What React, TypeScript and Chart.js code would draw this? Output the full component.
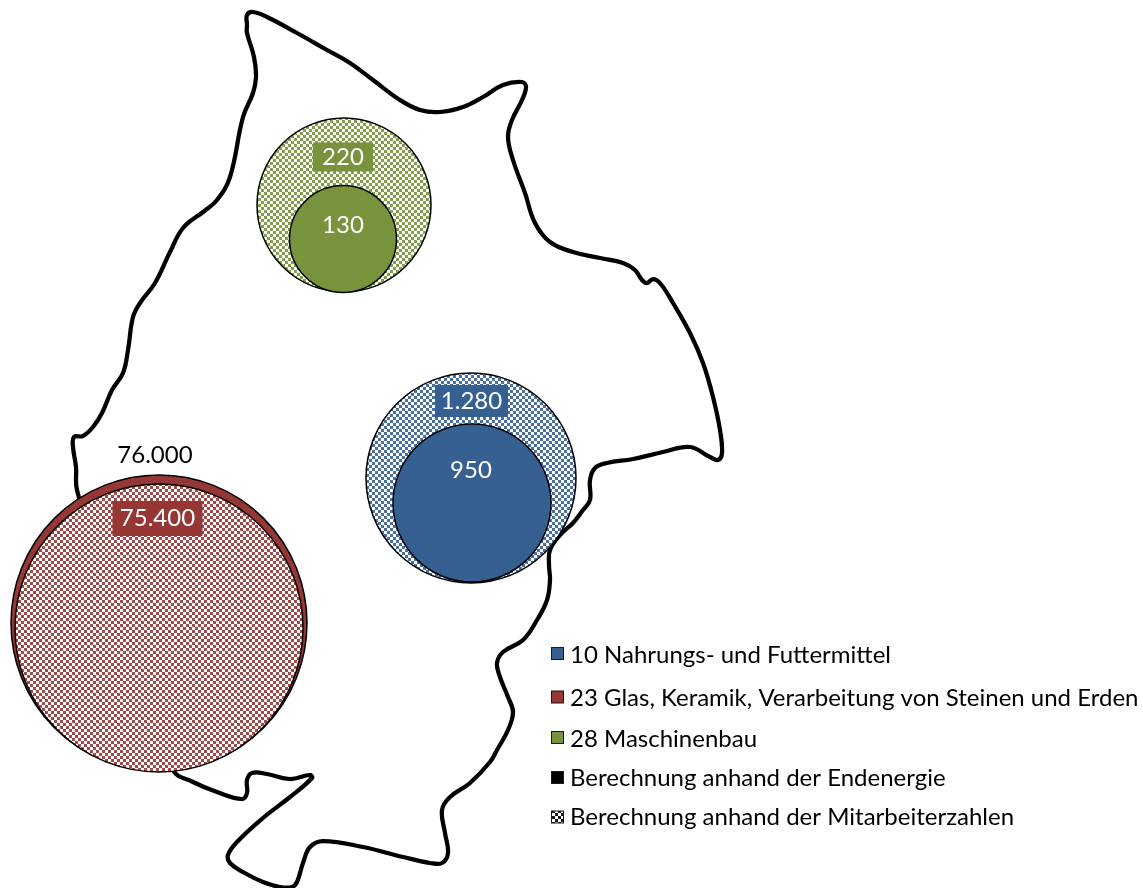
import React, { useEffect, useRef } from "react";
import { Chart, registerables } from "chart.js";

Chart.register(...registerables);

const WIDTH = 1143;
const HEIGHT = 888;

const outlineX = [247,247,253,267,297,327,350,373,400,420,440,463,483,503,522,526,522,512,508,513,525,535,550,573,600,623,635,642,647,653,660,673,690,703,713,720,722,718,710,690,663,633,607,595,590,590,583,573,560,550,549,550,547,537,523,503,497,500,508,513,508,497,490,470,450,442,445,448,442,430,403,363,323,310,303,297,292,280,263,243,230,228,237,263,290,312,310,290,267,252,247,247,242,217,193,173,120,77,76,73,74,83,93,102,112,123,128,133,140,155,170,183,203,217,230,243,253,256,254,247,247];
const outlineY = [25,15,12,17,33,50,63,80,100,110,112,107,97,85,82,87,100,120,137,160,193,223,242,252,258,263,270,280,283,279,283,303,333,363,397,430,453,460,457,447,452,459,463,468,480,500,510,523,535,550,565,580,600,620,640,652,663,677,697,712,730,750,762,783,797,810,833,853,863,863,857,847,841,847,863,882,887,887,882,872,863,855,842,818,797,778,775,779,774,773,780,793,799,792,782,770,640,490,467,447,437,436,427,413,390,373,350,317,303,283,252,228,212,200,177,117,93,77,57,33,25];

const seriesNames = ["10 Nahrungs- und Futtermittel", "23 Glas, Keramik, Verarbeitung von Steinen und Erden", "28 Maschinenbau"];
const methodNames = ["Berechnung anhand der Endenergie", "Berechnung anhand der Mitarbeiterzahlen"];
const seriesColors = ["#376092", "#953735", "#77933C"];

const energyLabels = ["950", "76.000", "130"];
const energyX = [472, 159, 343];
const energyY = [503, 623, 239];
const energyR = [79, 148, 53.5];
const energyLabelX = [471, 155, 343];
const energyLabelY = [470, 455, 225];
const energyLabelColor = ["#ffffff", "#000000", "#ffffff"];

const staffLabels = ["1.280", "75.400", "220"];
const staffX = [471, 159, 344];
const staffY = [478, 628, 205];
const staffR = [105, 144, 87];
const staffLabelX = [471.5, 157.5, 343];
const staffLabelY = [401, 518.5, 157];
const staffBoxW = [73, 90, 60];
const staffBoxH = [32, 35, 29];

const legendTextY = [655, 698, 739, 778, 817.5];
const legendBoxY = [653.5, 697, 737.5, 777.5, 817];

const BORDER = 1.5;
// Chart.js reserves the largest bubble's radius round the plot; the scale limits absorb that.
const INSET = Math.max(...energyR, ...staffR) + BORDER;

const FONT = '24px Lato, "Open Sans", sans-serif';

function checker(color: string): CanvasPattern {
  const c = document.createElement("canvas");
  c.width = 6;
  c.height = 6;
  const g = c.getContext("2d")!;
  g.fillStyle = "#ffffff";
  g.fillRect(0, 0, 6, 6);
  g.globalAlpha = 0.9;
  g.fillStyle = color;
  g.fillRect(0, 0, 3, 3);
  g.fillRect(3, 3, 3, 3);
  return g.createPattern(c, "repeat")!;
}

const annotations = {
  id: "annotations",
  afterDatasetsDraw(chart: any) {
    const { ctx, scales } = chart;
    const sx = (v: number) => scales.x.getPixelForValue(v);
    const sy = (v: number) => scales.y.getPixelForValue(v);
    ctx.save();
    ctx.font = FONT;
    ctx.textBaseline = "middle";
    ctx.textAlign = "center";
    energyLabels.forEach((t, i) => {
      ctx.fillStyle = energyLabelColor[i];
      ctx.fillText(t, sx(energyLabelX[i]), sy(energyLabelY[i]));
    });
    staffLabels.forEach((t, i) => {
      const x = sx(staffLabelX[i]);
      const y = sy(staffLabelY[i]);
      ctx.fillStyle = seriesColors[i];
      ctx.fillRect(x - staffBoxW[i] / 2, y - staffBoxH[i] / 2, staffBoxW[i], staffBoxH[i]);
      ctx.fillStyle = "#ffffff";
      ctx.fillText(t, x, y);
    });
    const names = [...seriesNames, ...methodNames];
    const fills: (string | CanvasPattern)[] = [...seriesColors, "#000000", checker("#000000")];
    ctx.textAlign = "left";
    names.forEach((t, i) => {
      ctx.fillStyle = fills[i];
      ctx.fillRect(551.5, legendBoxY[i] - 6, 12, 12);
      ctx.strokeStyle = "#1a1a1a";
      ctx.lineWidth = 1;
      ctx.strokeRect(551.5, legendBoxY[i] - 6, 12, 12);
      ctx.fillStyle = "#000000";
      ctx.fillText(t, 570, legendTextY[i]);
    });
    ctx.restore();
  },
};

export default function App() {
  const ref = useRef<HTMLCanvasElement>(null);
  useEffect(() => {
    document.body.style.margin = "0";
    const bubble = (label: string, xs: number[], ys: number[], rs: number[], fill: any, order: number) => ({
      type: "bubble" as const,
      label,
      data: xs.map((x, i) => ({ x, y: ys[i], r: rs[i] })),
      backgroundColor: fill,
      borderColor: "#000000",
      borderWidth: BORDER,
      order,
      clip: false,
    });
    const chart = new Chart(ref.current!, {
      type: "scatter",
      data: {
        datasets: [
          bubble("Endenergie", [energyX[0]], [energyY[0]], [energyR[0]], seriesColors[0], 1),
          bubble("Mitarbeiter", [staffX[0]], [staffY[0]], [staffR[0]], checker(seriesColors[0]), 2),
          bubble("Mitarbeiter", [staffX[1]], [staffY[1]], [staffR[1]], checker(seriesColors[1]), 1),
          bubble("Endenergie", [energyX[1]], [energyY[1]], [energyR[1]], seriesColors[1], 2),
          bubble("Endenergie", [energyX[2]], [energyY[2]], [energyR[2]], seriesColors[2], 1),
          bubble("Mitarbeiter", [staffX[2]], [staffY[2]], [staffR[2]], checker(seriesColors[2]), 2),
          {
            type: "scatter" as const,
            label: "Umriss",
            data: outlineX.map((x, i) => ({ x, y: outlineY[i] })),
            showLine: true,
            fill: false,
            tension: 0.4,
            borderColor: "#000000",
            borderWidth: 4.25,
            pointRadius: 0,
            order: 3,
            clip: false,
          },
        ] as any,
      },
      options: {
        animation: false,
        responsive: false,
        layout: { padding: 0 },
        plugins: { legend: { display: false }, tooltip: { enabled: false } },
        scales: {
          x: { type: "linear", min: INSET, max: WIDTH - INSET, display: false },
          y: { type: "linear", min: INSET, max: HEIGHT - INSET, reverse: true, display: false },
        },
      },
      plugins: [annotations],
    });
    return () => chart.destroy();
  }, []);
  return <canvas ref={ref} width={WIDTH} height={HEIGHT} style={{ display: "block" }} />;
}
